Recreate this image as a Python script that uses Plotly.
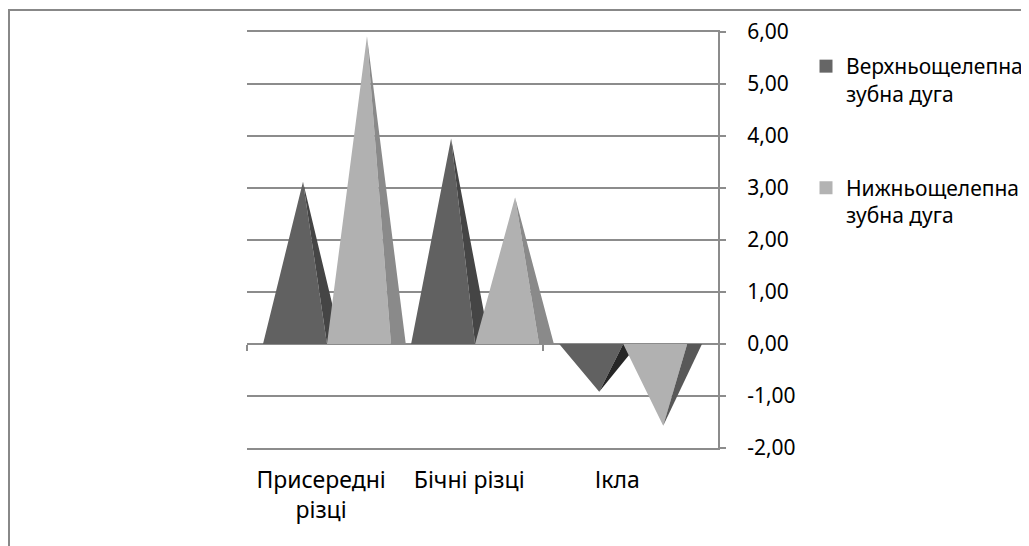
import plotly.graph_objects as go

# ---------------- data ----------------
categories = ["Присередні<br>різці", "Бічні різці", "Ікла"]
series_names = ["Верхньощелепна<br>зубна дуга", "Нижньощелепна<br>зубна дуга"]
upper_values = [3.12, 3.95, -0.92]   # Верхньощелепна зубна дуга
lower_values = [5.92, 2.82, -1.57]   # Нижньощелепна зубна дуга
y_tick_values = [-2, -1, 0, 1, 2, 3, 4, 5, 6]
y_tick_labels = ["-2,00", "-1,00", "0,00", "1,00", "2,00", "3,00", "4,00", "5,00", "6,00"]
category_edges = [0, 2]   # visible category tick marks on the zero axis

# ---------------- style / geometry ----------------
FONT = "Noto Sans"
FS = 21
GRID = "#8c8c8c"
front_colors = ["#616161", "#b1b1b1"]
side_pos_colors = ["#454545", "#8a8a8a"]
side_neg_colors = ["#262626", "#585858"]
legend_colors = ["#666666", "#b3b3b3"]
GROUP_OFFSET = 0.108   # offset of first pyramid from category start (category units)
FACE_W = 0.432         # front face base width
APEX = 0.27            # apex position from left of base
SIDE = 0.10            # visible side face depth
X_MAX = 3.18

BODY = 8  # default page body margin
W, H = 1029 - BODY, 546 - BODY
L, T = 247 - BODY, 32 - BODY
PW, PH = 718 - 247, 448 - 32
R, B = W - L - PW, H - T - PH

fig = go.Figure()

all_series = [upper_values, lower_values]
for s, vals in enumerate(all_series):
    fx, fy = [], []
    spx, spy, snx, sny = [], [], [], []
    for c, v in enumerate(vals):
        left = c + GROUP_OFFSET + s * FACE_W
        right = left + FACE_W
        apex = left + APEX
        fx += [left, apex, right, left, None]
        fy += [0, v, 0, 0, None]
        sx = [apex, right, right + SIDE, apex, None]
        sy = [v, 0, 0, v, None]
        if v >= 0:
            spx += sx; spy += sy
        else:
            snx += sx; sny += sy
    fig.add_trace(go.Scatter(x=fx, y=fy, mode="lines", fill="toself",
                             fillcolor=front_colors[s], line=dict(width=0),
                             showlegend=False, hoverinfo="skip"))
    if spx:
        fig.add_trace(go.Scatter(x=spx, y=spy, mode="lines", fill="toself",
                                 fillcolor=side_pos_colors[s], line=dict(width=0),
                                 showlegend=False, hoverinfo="skip"))
    if snx:
        fig.add_trace(go.Scatter(x=snx, y=sny, mode="lines", fill="toself",
                                 fillcolor=side_neg_colors[s], line=dict(width=0),
                                 showlegend=False, hoverinfo="skip"))

# legend entries
for s, name in enumerate(series_names):
    fig.add_trace(go.Scatter(x=[None], y=[None], mode="markers", name=name,
                             legendgroup=f"g{s}", xaxis="x2",
                             marker=dict(symbol="square", size=13, color=legend_colors[s])))

# page pixel -> paper fraction
def px_x(p):
    return (p - 247) / PW

def px_y(p):
    return 1 - (p - 32) / PH

fig.update_layout(
    width=W, height=H,
    margin=dict(l=L, r=R, t=T, b=B, pad=0, autoexpand=False),
    paper_bgcolor="white", plot_bgcolor="white",
    font=dict(family=FONT, size=FS, color="#000000"),
    showlegend=True,
    legend=dict(x=px_x(806), xanchor="left", y=px_y(46), yanchor="top",
                valign="top", tracegroupgap=64, bgcolor="rgba(0,0,0,0)",
                font=dict(family=FONT, size=FS, color="#000000")),
    xaxis=dict(range=[0, X_MAX], anchor="free", position=0.25,
               showgrid=False, zeroline=False, showline=True,
               linecolor=GRID, linewidth=2, ticks="outside", ticklen=6,
               tickwidth=2, tickcolor=GRID, tickvals=category_edges,
               showticklabels=False, layer="below traces", fixedrange=True),
    xaxis2=dict(range=[0, X_MAX], overlaying="x", anchor="y", side="bottom",
                showgrid=False, zeroline=False, showline=True, mirror=True,
                linecolor=GRID, linewidth=2, layer="below traces", ticks="",
                tickvals=[0.5, 1.5, 2.5], ticktext=categories,
                ticklabelstandoff=10, tickfont=dict(family=FONT, size=23)),
    yaxis=dict(range=[-2, 6], side="right", tickvals=y_tick_values,
               ticktext=y_tick_labels, showgrid=True, gridcolor=GRID,
               gridwidth=2, zeroline=False, showline=True, linecolor=GRID,
               linewidth=2, ticks="outside", ticklen=6, tickwidth=2,
               tickcolor=GRID, ticklabelstandoff=17,
               tickfont=dict(family=FONT, size=FS), fixedrange=True),
    shapes=[dict(type="path", xref="paper", yref="paper",
                 path=f"M {px_x(9)},{px_y(560)} L {px_x(9)},{px_y(10)} L {px_x(1040)},{px_y(10)}",
                 line=dict(color="#888888", width=2), layer="above")],
)

fig.write_html("out.html")
